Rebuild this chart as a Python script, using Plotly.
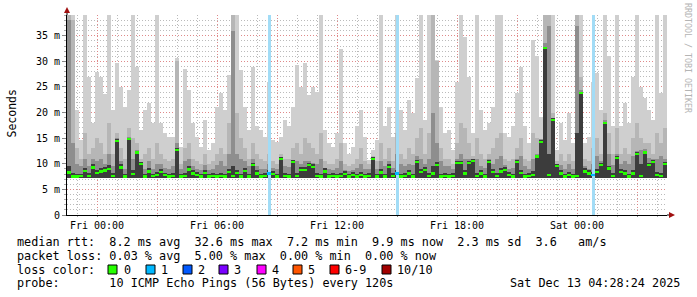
import plotly.graph_objects as go
import pandas as pd

# ---------------- data (12-minute consolidated steps, 150 steps) ----------------
start_time = "2025-12-11 22:30"
step_minutes = 12

rtt_max = [
    39, 39, 20.5, 14.6, 39, 27, 18, 28, 27, 23.7, 39, 20.5, 29.6, 25, 21, 24.4, 39, 29, 16.6, 20.5, 21.8, 18, 39, 18, 16,
    15.3, 15.3, 30.6, 13.3, 28.6, 24.4, 18, 15.3, 13.3, 18.5, 12.7, 14, 21, 23.8, 20.5, 27.3, 39, 39, 28.3, 21, 16.6, 29, 17.3, 16.6, 15.3,
    26, 14.6, 14.3, 15.3, 18.5, 17.3, 21, 29.3, 25, 29.6, 23.4, 25, 24, 39, 16.6, 14, 13.3, 16, 32.5, 14, 12, 13.3, 17.3, 20.5, 15.3,
    10.7, 12.7, 14.6, 39, 17.3, 21, 15.3, 39, 20.5, 16.6, 22.5, 19.9, 26.7, 39, 18.5, 39, 39, 30.3, 21, 16, 16.6, 12.7, 26, 39, 34.8,
    27, 16, 39, 20.5, 16.6, 18, 21, 39, 39, 16, 15.3, 17.3, 23.8, 29, 17.3, 14, 34.2, 31, 19.2, 39, 39, 39, 12.7, 18, 14.6,
    19.9, 14, 39, 39, 14, 15.3, 26, 27.7, 20.5, 39, 31, 17.3, 39, 17.3, 21.8, 18, 27, 39, 25, 22.8, 20.5, 18.5, 39, 23.8, 39,
]
rtt_p2 = [
    39, 38, 13, 11, 16, 12, 13, 15, 14, 12, 18, 12, 16, 13, 11, 17, 15, 14, 11, 12, 13, 11, 14, 12, 11,
    10.5, 11, 30, 10, 13, 14, 11, 10.5, 10, 12, 10, 10.5, 12, 13, 12, 18, 39, 20, 15, 13, 11, 14, 12, 11, 10.5,
    12, 10.5, 10, 12, 11, 11, 13, 14, 12, 15, 14, 13, 12, 16, 10.5, 10, 10, 11, 14, 10, 9.5, 10, 11, 13, 10.5,
    10, 11.5, 10.5, 14, 11, 13, 10.5, 16, 12, 11, 13, 12, 15, 17, 12, 16, 39, 30, 13, 11, 11, 10, 14, 18, 17,
    14, 11.5, 15, 12, 11, 12, 13, 15, 16, 11, 10.5, 11, 13, 15, 11, 10.5, 16, 15, 14.5, 39, 39, 20, 10.5, 12, 10.5,
    12, 10.5, 39, 27, 11, 10.5, 13, 15, 12, 20, 16, 12, 17, 12, 13, 12, 15, 18, 15, 14, 14, 12, 16, 14, 17,
]
rtt_p3 = [
    38, 14, 10, 9.5, 11, 9.5, 11, 10.5, 11, 10, 12, 9.5, 15, 10.5, 9, 15.2, 11, 12.6, 10.4, 9, 10.5, 9, 10, 10, 9.2,
    9, 9.5, 14, 9, 10.5, 11, 9.5, 9, 8.8, 9.8, 8.8, 9, 9.8, 10.5, 9.5, 12, 36, 12, 11, 10.5, 9.5, 11, 9.5, 9, 9,
    10, 9.2, 9, 11.4, 9.5, 9.4, 10.8, 10.5, 10, 10.5, 10.5, 10.2, 10, 11, 9.2, 9, 8.8, 9.2, 10.5, 8.8, 8.5, 8.8, 9.2, 10, 9,
    9, 11.4, 9, 10.5, 9.5, 10.5, 9.2, 12, 10, 9.5, 10, 9.8, 11.5, 11, 10, 11, 20, 14, 10.5, 9.5, 9.5, 9, 11, 12, 11,
    11, 11, 11, 9.5, 9.2, 11, 10, 11, 11.5, 9.8, 9, 9.2, 11, 11.5, 9.5, 9, 11, 12, 14.8, 33.5, 37, 19, 10, 9.8, 9,
    10, 9, 37, 24.5, 9.5, 9, 10, 11.5, 10.5, 18.5, 12, 9.8, 12, 10, 10.5, 10, 11.5, 12.5, 12.6, 12.8, 11.2, 11, 11, 11.5, 11,
]
rtt_p4 = [
    9.5, 8.2, 8.0, 8.1, 9.2, 8.2, 10.0, 8.8, 9.2, 9.3, 9.8, 8.2, 14.8, 9.9, 8.0, 15.1, 8.7, 12.5, 10.4, 8.0, 9.1, 8.1, 8.4, 9.0, 8.3,
    8.0, 8.2, 13.0, 8.0, 8.2, 9.5, 8.7, 8.4, 8.0, 8.8, 8.0, 8.2, 8.1, 8.3, 8.0, 9.0, 9.5, 8.8, 8.1, 9.2, 8.0, 10.2, 8.7, 8.0, 8.2,
    8.7, 8.6, 8.0, 11.3, 8.2, 8.0, 10.7, 8.3, 9.4, 9.4, 10.2, 9.9, 8.2, 8.1, 9.1, 8.0, 8.2, 8.1, 8.3, 8.6, 8.0, 8.4, 8.1, 8.4, 8.0,
    8.2, 11.3, 8.0, 8.9, 8.1, 9.9, 8.2, 8.8, 8.1, 8.2, 8.7, 8.1, 10.8, 9.0, 9.3, 8.2, 9.5, 10.3, 8.1, 8.2, 8.0, 8.2, 10.5, 10.6, 8.7,
    10.5, 11.0, 8.3, 8.7, 8.0, 10.8, 9.0, 8.3, 9.1, 9.3, 8.4, 8.1, 10.8, 8.8, 8.1, 8.2, 8.5, 11.8, 14.6, 32.9, 12.0, 18.9, 10.0, 8.7, 8.1,
    8.4, 8.0, 16.0, 24.1, 9.1, 8.7, 8.4, 9.0, 10.2, 18.2, 9.6, 8.2, 11.5, 9.0, 8.7, 8.1, 8.7, 12.3, 10.0, 12.5, 10.2, 10.8, 8.4, 8.3, 10.4,
]
rtt_median = [
    8.3, 7.5, 7.5, 7.6, 8.6, 7.6, 9.3, 8.2, 8.5, 8.7, 9.0, 7.6, 14.5, 9.3, 7.5, 14.8, 8.0, 12.2, 10.0, 7.5, 8.5, 7.6, 7.8, 8.4, 7.8,
    7.5, 7.6, 12.7, 7.5, 7.6, 8.9, 8.1, 7.8, 7.5, 8.2, 7.5, 7.6, 7.5, 7.6, 7.5, 8.4, 7.6, 8.2, 7.5, 8.6, 7.5, 9.8, 8.1, 7.5, 7.6,
    8.1, 8.0, 7.5, 11.0, 7.6, 7.5, 10.4, 7.6, 8.8, 8.8, 9.8, 9.4, 7.6, 7.5, 8.5, 7.5, 7.6, 7.5, 7.6, 8.0, 7.5, 7.8, 7.5, 7.8, 7.5,
    7.6, 11.0, 7.5, 8.3, 7.5, 9.4, 7.6, 8.1, 7.5, 7.6, 8.1, 7.5, 10.4, 8.4, 8.8, 7.6, 8.1, 9.8, 7.5, 7.6, 7.5, 7.6, 10.1, 10.2, 8.1,
    10.1, 10.6, 7.6, 8.1, 7.5, 10.4, 8.4, 7.6, 8.5, 8.8, 7.8, 7.5, 10.4, 8.2, 7.5, 7.6, 7.8, 11.4, 14.3, 32.6, 7.8, 18.6, 9.6, 8.1, 7.5,
    7.8, 7.5, 7.6, 23.8, 8.5, 8.1, 7.8, 8.4, 9.8, 17.9, 9.1, 7.6, 11.1, 8.4, 8.1, 7.5, 8.1, 11.9, 7.6, 12.2, 9.8, 10.4, 7.8, 7.6, 10.0,
]
rtt_floor = 7.2  # lowest ping (ms)
loss = [
    0] * 50 + [1] + [0] * 31 + [1] + [0] * 48 + [1] + [0] * 18

y_tick_vals = [0, 5, 10, 15, 20, 25, 30, 35]
y_tick_text = ["0", "5 m", "10 m", "15 m", "20 m", "25 m", "30 m", "35 m"]
x_tick_vals = ["2025-12-12 00:00", "2025-12-12 03:00", "2025-12-12 06:00", "2025-12-12 09:00",
               "2025-12-12 12:00", "2025-12-12 15:00", "2025-12-12 18:00", "2025-12-12 21:00",
               "2025-12-13 00:00", "2025-12-13 03:00"]
x_tick_text = ["Fri 00:00", "", "Fri 06:00", "", "Fri 12:00", "", "Fri 18:00", "", "Sat 00:00", ""]

loss_colors = {0: "#26ff00", 1: "#00b8ff", 2: "#0059ff", 3: "#7a00ff", 4: "#ff00ff",
               5: "#ff5500", 6: "#ff0000", 10: "#a10000"}
legend_items = [("0", "#26ff00"), ("1", "#00b8ff"), ("2", "#0059ff"), ("3", "#7a00ff"),
                ("4", "#ff00ff"), ("5", "#ff5500"), ("6-9", "#ff0000"), ("10/10", "#a10000")]

# ---------------- figure ----------------
n = len(rtt_median)
step = pd.Timedelta(minutes=step_minutes)
times = [pd.Timestamp(start_time) + step * i + step / 2 for i in range(n)]
x_start = pd.Timestamp(start_time)
x_end = x_start + step * n
bar_w = step_minutes * 60 * 1000
y_top = 39.06

fig = go.Figure()
smoke = [(rtt_max, "#cfcfcf", 1.0), (rtt_p2, "#b6b6b6", 1.0),
         (rtt_p3, "#8e8e8e", 1.0), (rtt_p4, "#3c3c3c", 1.0)]
for vals, col, frac in smoke:
    fig.add_trace(go.Bar(x=times, y=[v - rtt_floor for v in vals], base=rtt_floor,
                         width=bar_w * frac, marker=dict(color=col, line=dict(width=0)),
                         hoverinfo="skip", showlegend=False))

loss_x = [t for t, l in zip(times, loss) if l > 0]
fig.add_trace(go.Bar(x=loss_x, y=[y_top] * len(loss_x), base=0, width=bar_w * 0.75,
                     marker=dict(color="#a2dcf6", line=dict(width=0)),
                     hoverinfo="skip", showlegend=False))

med_colors = [loss_colors.get(l, "#ff0000") for l in loss]
fig.add_trace(go.Bar(x=times, y=[0.45] * n, base=[m - 0.22 for m in rtt_median],
                     width=bar_w, marker=dict(color=med_colors, line=dict(width=0)),
                     hoverinfo="skip", showlegend=False))

mono = "DejaVu Sans Mono"
grid_major = "rgba(235,120,120,0.75)"
grid_minor = "rgba(170,170,170,0.8)"

fig.update_layout(
    width=697, height=297,
    margin=dict(l=67, r=30, t=15, b=82),
    paper_bgcolor="white", plot_bgcolor="white",
    barmode="overlay", bargap=0, showlegend=False,
    font=dict(family=mono, size=10, color="black"),
)
fig.update_xaxes(
    type="date", range=[x_start, x_end],
    tickmode="array", tickvals=x_tick_vals, ticktext=x_tick_text,
    showgrid=True, gridcolor=grid_major, griddash="1px,2px", gridwidth=1,
    showline=True, linecolor="black", linewidth=1,
    ticks="outside", ticklen=1, tickcolor="#888",
    tickfont=dict(family=mono, size=10, color="black"),
    minor=dict(dtick=3600000, tick0="2025-12-12 00:00", showgrid=True,
               gridcolor=grid_minor, griddash="1px,2px", gridwidth=1,
               ticks="outside", ticklen=1, tickcolor="#aaa"),
    zeroline=False, fixedrange=True,
)
fig.update_yaxes(
    range=[0, y_top],
    tickmode="array", tickvals=y_tick_vals, ticktext=y_tick_text,
    showgrid=True, gridcolor=grid_major, griddash="1px,2px", gridwidth=1,
    showline=True, linecolor="black", linewidth=1,
    ticks="outside", ticklen=4, tickcolor="#888",
    tickfont=dict(family=mono, size=10, color="black"),
    minor=dict(dtick=1, showgrid=True, gridcolor=grid_minor, griddash="1px,2px",
               gridwidth=1, ticks="outside", ticklen=2, tickcolor="#aaa"),
    zeroline=False, fixedrange=True,
)


def px(xp):
    return (xp - 67) / 600


def py(yp):
    return (215 - yp) / 200


def nb(s):
    return s.replace(" ", "\u00a0")


anns = []
leg_font = dict(family=mono, size=11.8, color="black")
lines = [
    ("median rtt:  8.2 ms avg  32.6 ms max  7.2 ms min  9.9 ms now  2.3 ms sd  3.6   am/s", 241.5),
    ("packet loss: 0.03 % avg  5.00 % max  0.00 % min  0.00 % now", 255.5),
    ("loss color:", 269.5),
    ("probe:       10 ICMP Echo Pings (56 Bytes) every 120s", 283),
]
for txt, yy in lines:
    anns.append(dict(text=nb(txt), x=px(15), y=py(yy), xref="paper", yref="paper",
                     xanchor="left", yanchor="middle", showarrow=False, font=leg_font))
anns.append(dict(text=nb("Sat Dec 13 04:28:24 2025"), x=px(682), y=py(283), xref="paper",
                 yref="paper", xanchor="right", yanchor="middle", showarrow=False, font=leg_font))

shapes = []
box_x = [108, 146, 183, 219, 257, 293, 330, 382]
label_x = [122, 159, 196, 232, 270, 306, 343, 395]
for (lab, col), bx, lx in zip(legend_items, box_x, label_x):
    shapes.append(dict(type="rect", xref="paper", yref="paper", x0=px(bx), x1=px(bx + 9),
                       y0=py(274), y1=py(265), fillcolor=col, line=dict(color="black", width=1)))
    anns.append(dict(text=lab, x=px(lx), y=py(269.5), xref="paper", yref="paper",
                     xanchor="left", yanchor="middle", showarrow=False, font=leg_font))

anns.append(dict(text="Seconds", x=px(11), y=py(113.5), xref="paper", yref="paper",
                 textangle=-90, xanchor="center", yanchor="middle", showarrow=False,
                 font=dict(family=mono, size=11.5, color="black")))
anns.append(dict(text=nb("RRDTOOL / TOBI OETIKER"), x=px(688), y=py(58), xref="paper", yref="paper",
                 textangle=90, xanchor="center", yanchor="middle", showarrow=False,
                 font=dict(family=mono, size=8.3, color="#b4b4b4")))

# axis extensions and arrows
shapes.append(dict(type="line", xref="paper", yref="paper", x0=px(67), x1=px(67), y0=py(15), y1=py(11),
                   line=dict(color="black", width=1)))
shapes.append(dict(type="line", xref="paper", yref="paper", x0=px(667), x1=px(670), y0=py(215), y1=py(215),
                   line=dict(color="black", width=1)))
shapes.append(dict(type="path", xref="paper", yref="paper",
                   path=f"M {px(64)} {py(13)} L {px(70)} {py(13)} L {px(67)} {py(7)} Z",
                   fillcolor="#a01010", line=dict(color="#a01010", width=0)))
shapes.append(dict(type="path", xref="paper", yref="paper",
                   path=f"M {px(669)} {py(212)} L {px(669)} {py(218)} L {px(675)} {py(215)} Z",
                   fillcolor="#a01010", line=dict(color="#a01010", width=0)))

fig.update_layout(annotations=anns, shapes=shapes)
fig.write_html("out.html")
